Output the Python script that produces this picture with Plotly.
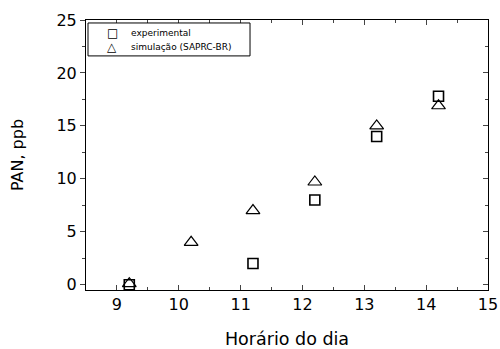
import plotly.graph_objects as go

hours = [9.2, 10.2, 11.2, 12.2, 13.2, 14.2]
exp_hours = [9.2, 11.2, 12.2, 13.2, 14.2]
experimental = [0.0, 2.0, 8.0, 14.0, 17.8]
simulacao = [0.1, 4.0, 7.0, 9.7, 15.0, 16.9]
x_ticks = [9, 10, 11, 12, 13, 14, 15]
y_ticks = [0, 5, 10, 15, 20, 25]
legend_labels = ["experimental", "simulação (SAPRC-BR)"]

font = "DejaVu Sans, Liberation Sans, sans-serif"

fig = go.Figure()
fig.add_trace(go.Scatter(x=exp_hours, y=experimental, mode="markers", name=legend_labels[0],
                         marker=dict(symbol="square-open", size=10, color="black", line=dict(width=1.6)),
                         showlegend=False))
fig.add_trace(go.Scatter(x=hours, y=simulacao, mode="markers", name=legend_labels[1],
                         marker=dict(symbol="triangle-up-open", size=12, color="black", line=dict(width=1.2)),
                         showlegend=False))
# invisible trace to activate the right-hand mirrored axis
fig.add_trace(go.Scatter(x=hours, y=simulacao, yaxis="y2", mode="markers",
                         marker=dict(opacity=0), hoverinfo="skip", showlegend=False))

# hand-drawn legend box (paper coordinates)
fig.add_shape(type="rect", xref="paper", yref="paper", x0=0.005, x1=0.408, y0=0.867, y1=0.989,
              line=dict(color="black", width=1), fillcolor="white", layer="above")
fig.add_annotation(xref="paper", yref="paper", x=0.065, y=0.952, text="□", showarrow=False,
                   font=dict(family=font, size=12, color="black"), xanchor="center", yanchor="middle",
                   borderpad=0)
fig.add_annotation(xref="paper", yref="paper", x=0.065, y=0.900, text="△", showarrow=False,
                   font=dict(family=font, size=12, color="black"), xanchor="center", yanchor="middle",
                   borderpad=0)
fig.add_annotation(xref="paper", yref="paper", x=0.109, y=0.952, text=legend_labels[0], showarrow=False,
                   font=dict(family=font, size=9, color="black"), xanchor="left", yanchor="middle",
                   borderpad=0)
fig.add_annotation(xref="paper", yref="paper", x=0.109, y=0.900, text=legend_labels[1], showarrow=False,
                   font=dict(family=font, size=9, color="black"), xanchor="left", yanchor="middle",
                   borderpad=0)

# plot area at x 86..488, y 20..290 of the 500x349 page
fig.update_layout(
    width=500, height=349,
    margin=dict(l=86, r=12, t=20, b=59),
    paper_bgcolor="white", plot_bgcolor="white",
    font=dict(family=font, size=16, color="black"),
    xaxis=dict(range=[8.5, 15], tickvals=x_ticks, automargin=False,
               ticks="inside", ticklen=5, tickwidth=1, showline=True, linecolor="black",
               linewidth=1, mirror="ticks", showgrid=False, zeroline=False,
               minor=dict(tickvals=[8.5, 9.5, 10.5, 11.5, 12.5, 13.5, 14.5], ticks="inside", ticklen=3),
               title=dict(text="Horário do dia", standoff=19, font=dict(size=17.5)),
               tickfont=dict(size=16), ticklabeloverflow="allow"),
    yaxis=dict(range=[-0.5, 25], tickvals=y_ticks, automargin=False,
               ticks="outside", ticklen=5, tickwidth=1, showline=True, linecolor="black",
               linewidth=1, mirror=False, showgrid=False, zeroline=False,
               minor=dict(tickvals=[2.5, 7.5, 12.5, 17.5, 22.5], ticks="outside", ticklen=3),
               title=dict(text="PAN, ppb", standoff=28, font=dict(size=16)),
               tickfont=dict(size=16)),
    yaxis2=dict(overlaying="y", side="right", range=[-0.5, 25], tickvals=y_ticks, automargin=False,
                ticks="inside", ticklen=5, tickwidth=1, showline=True, linecolor="black",
                linewidth=1, showticklabels=False, showgrid=False, zeroline=False,
                minor=dict(tickvals=[2.5, 7.5, 12.5, 17.5, 22.5], ticks="inside", ticklen=3)),
)
fig.write_html("out.html", config={"displayModeBar": False},
               post_script="document.body.style.margin='0px';document.body.style.overflow='hidden';")
